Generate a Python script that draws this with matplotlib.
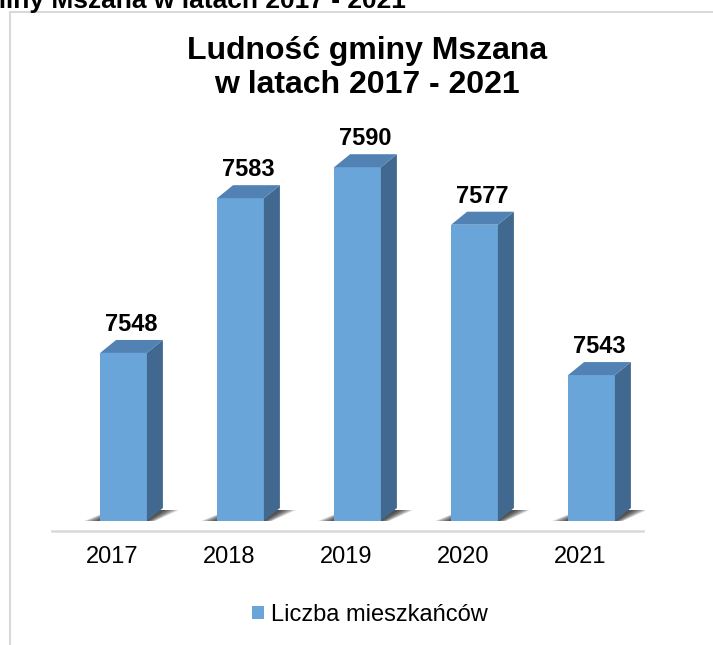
import numpy as np
import matplotlib
matplotlib.use("Agg")
import matplotlib.pyplot as plt
from matplotlib.patches import Polygon, Rectangle, Patch
from matplotlib.transforms import IdentityTransform
from matplotlib.lines import Line2D

years = ["2017", "2018", "2019", "2020", "2021"]
values = [7548, 7583, 7590, 7577, 7543]
series_name = "Liczba mieszkańców"
title = "Ludność gminy Mszana\nw latach 2017 - 2021"
page_heading = "Ludność gminy Mszana w latach 2017 - 2021"

FRONT = "#6aa5d9"
SIDE = "#41688f"
TOP = "#5282b3"
GRID = "#d9d9d9"

plt.rcParams["font.family"] = ["Liberation Sans", "DejaVu Sans"]

W, H = 713, 645
fig = plt.figure(figsize=(W / 100, H / 100), dpi=100)


def px(x, y, w, h):
    # pixel box (from top-left) -> figure fraction rect
    return [x / W, 1 - (y + h) / H, w / W, h / H]


# chart area border and heading cut off by the page edge
fig.add_artist(Rectangle((10 / W, -0.5), 2, 1.5 - 12 / H, transform=fig.transFigure,
                         fill=False, edgecolor=GRID, lw=1.5))
fig.text(406 / W, 1 - 8 / H, page_heading, ha="right", va="baseline",
         fontsize=19, fontweight="bold")

# axes: category i -> front centre at 123.5 + 117 i px
x0_px, x1_px = 52, 645
ax = fig.add_axes(px(x0_px, 123, x1_px - x0_px, 521 - 123))
ax.set_xlim((x0_px - 123.5) / 117, (x1_px - 123.5) / 117)
ax.set_ylim(7510, 7600)
ax.axis("off")

pos = np.arange(len(years))
bw = 0.4
dx, dy = 16, 13  # depth of the 3D boxes in pixels

to_disp = ax.transData.transform
base = ax.get_ylim()[0]

# floor shadows (layered to fake a blur)
for i, v in zip(pos, values):
    L, B = to_disp((i - bw / 2, base))
    R, _ = to_disp((i + bw / 2, base))
    for k in range(8):
        e = 2 + k * 2
        shadow = Polygon([(L - e, B), (R + e * 0.5, B), (R + dx + e, B + dy - 2),
                          (L + dx - e * 0.3, B + dy - 2)],
                         closed=True, transform=IdentityTransform(),
                         facecolor="#000000", edgecolor="none", alpha=0.13)
        ax.add_artist(shadow)

# front faces
ax.bar(pos, values, width=bw, bottom=0, color=FRONT, zorder=3)

# side and top faces
for i, v in zip(pos, values):
    L, T = to_disp((i - bw / 2, v))
    R, B = to_disp((i + bw / 2, base))
    side = Polygon([(R, B), (R + dx, B + dy), (R + dx, T + dy), (R, T)],
                   closed=True, transform=IdentityTransform(),
                   facecolor=SIDE, edgecolor="none", zorder=3)
    top = Polygon([(L, T), (R, T), (R + dx, T + dy), (L + dx, T + dy)],
                  closed=True, transform=IdentityTransform(),
                  facecolor=TOP, edgecolor="none", zorder=3)
    ax.add_artist(side)
    ax.add_artist(top)
    ax.annotate(str(v), (i, v), xytext=(dx / 2, dy + 4), textcoords="offset pixels",
                ha="center", va="bottom", fontsize=17, fontweight="bold", zorder=4)

# floor line
fig.add_artist(Line2D([x0_px / W, 643 / W], [1 - 531 / H] * 2, transform=fig.transFigure,
                      color=GRID, lw=1.8))

# category labels
for i, lab in zip(pos, years):
    ax.annotate(lab, (i - 0.1, base), xytext=(0, -36), textcoords="offset pixels",
                ha="center", va="center", fontsize=17)

ax.legend([Patch(facecolor=FRONT)], [series_name], loc="center",
          bbox_to_anchor=(370 / W, 1 - 615 / H), bbox_transform=fig.transFigure,
          frameon=False, fontsize=17, handlelength=0.5, handleheight=0.5,
          handletextpad=0.3)

fig.text(367 / W, 1 - 68 / H, title, ha="center", va="center", fontsize=23,
         fontweight="bold", linespacing=1.15)

fig.savefig("out.png", dpi=100)
